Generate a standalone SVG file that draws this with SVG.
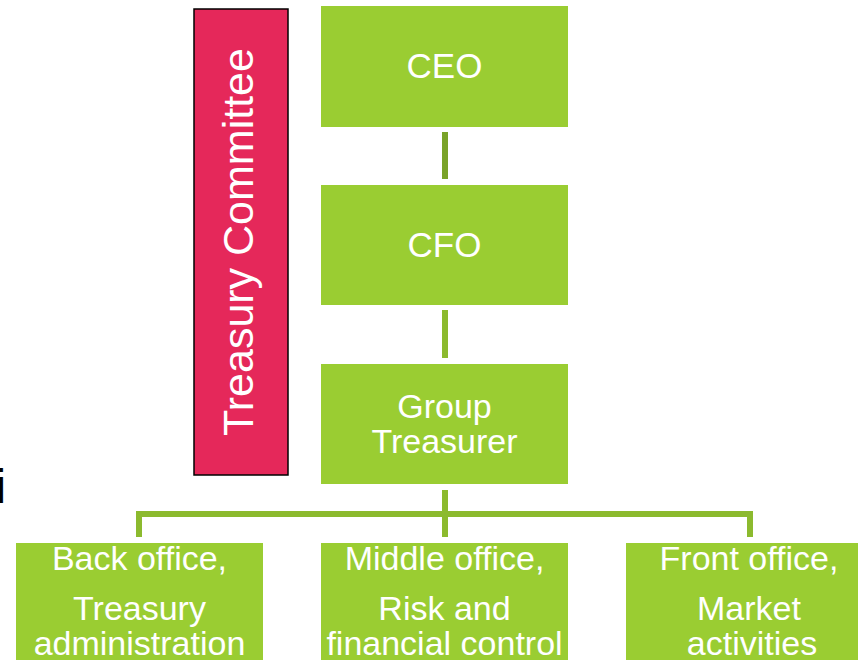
<svg xmlns="http://www.w3.org/2000/svg" width="858" height="660" viewBox="0 0 858 660">
<style>
.box{fill:#9acd32}
.t{font-family:"Liberation Sans",Arial,sans-serif;fill:#ffffff;text-anchor:middle}
.big{font-size:35px}
.mid{font-size:34px}
.conn{fill:none;stroke:#8cba2e;stroke-width:6}
</style>
<rect width="858" height="660" fill="#ffffff"/>
<text x="-4.4" y="503" style="font-family:'Liberation Sans',Arial,sans-serif;font-size:48px;fill:#000">i</text>
<g id="connectors">
<line class="conn" x1="445" y1="132" x2="445" y2="179" style="stroke:#7aa329"/>
<line class="conn" x1="445" y1="310" x2="445" y2="358"/>
<line class="conn" x1="445" y1="490" x2="445" y2="537"/>
<path class="conn" d="M139,537 V514 H750 V537"/>
</g>
<g id="treasury-committee">
<rect x="194" y="9" width="94" height="466" fill="#e5285a" stroke="#000" stroke-width="1.5"/>
<text class="t" font-size="43" transform="translate(253,242) rotate(-90)">Treasury Committee</text>
</g>
<g id="ceo">
<rect class="box" x="321" y="6" width="247" height="121"/>
<text class="t big" x="444.5" y="78">CEO</text>
</g>
<g id="cfo">
<rect class="box" x="321" y="185" width="247" height="120"/>
<text class="t big" x="444.5" y="257">CFO</text>
</g>
<g id="group-treasurer">
<rect class="box" x="321" y="364" width="247" height="120"/>
<text class="t mid" x="444.5" y="418">Group</text>
<text class="t mid" x="444.5" y="453">Treasurer</text>
</g>
<g id="back-office">
<rect class="box" x="16" y="543" width="247" height="120"/>
<text class="t mid" x="139.5" y="570">Back office,</text>
<text class="t mid" x="139.5" y="620">Treasury</text>
<text class="t mid" x="139.5" y="655">administration</text>
</g>
<g id="middle-office">
<rect class="box" x="321" y="543" width="247" height="120"/>
<text class="t mid" x="444.5" y="570">Middle office,</text>
<text class="t mid" x="444.5" y="620">Risk and</text>
<text class="t mid" x="444.5" y="655">financial control</text>
</g>
<g id="front-office">
<rect class="box" x="626" y="543" width="246" height="120"/>
<text class="t mid" x="749" y="570">Front office,</text>
<text class="t mid" x="749" y="620">Market</text>
<text class="t mid" x="752" y="655">activities</text>
</g>
</svg>
